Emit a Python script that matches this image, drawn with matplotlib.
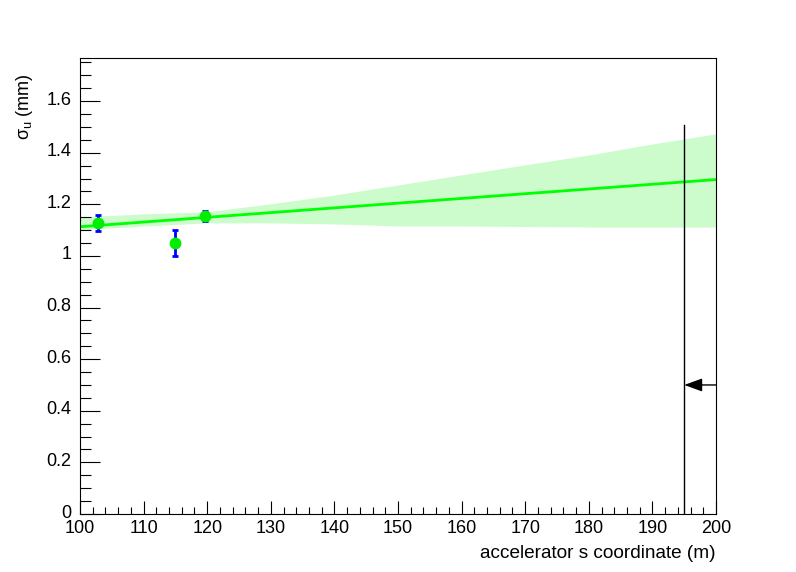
import matplotlib
matplotlib.use("Agg")
import matplotlib.pyplot as plt
import matplotlib.transforms as mtransforms
from matplotlib.ticker import MultipleLocator

plt.rcParams['font.family'] = ['Liberation Sans', 'DejaVu Sans']
plt.rcParams['mathtext.fontset'] = 'custom'
plt.rcParams['mathtext.rm'] = 'Liberation Sans'

# data points
pt_x = [102.9, 115.0, 119.65]
pt_y = [1.127, 1.050, 1.154]
pt_err = [0.030, 0.050, 0.020]

# fit line endpoints
fit_x = [100, 200]
fit_y = [1.113, 1.296]

# confidence band
band_x = [100, 110, 120, 130, 140, 150, 160, 170, 180, 190, 200]
band_hi = [1.151, 1.163, 1.171, 1.202, 1.236, 1.275, 1.314, 1.353, 1.391, 1.434, 1.473]
band_lo = [1.101, 1.116, 1.128, 1.128, 1.124, 1.116, 1.116, 1.114, 1.112, 1.112, 1.112]

# marker line and arrow
vline_x = 195
vline_top = 1.508
arrow_y = 0.5
arrow_from = 200
arrow_to = 195

fig = plt.figure(figsize=(7.96, 5.72), dpi=100)
ax = fig.add_axes([80/796, (572-514)/572, 636/796, 456/572])

ax.fill_between(band_x, band_lo, band_hi, color='#ccfccc', lw=0, zorder=1)
ax.plot(fit_x, fit_y, color='#00ff00', lw=2, zorder=2)
ax.errorbar(pt_x, pt_y, yerr=pt_err, fmt='o', color='#00ee00', ms=7.5,
            ecolor='#0000ff', elinewidth=2, capsize=2.5, capthick=2, zorder=3)

ax.plot([vline_x, vline_x], [0, vline_top], color='black', lw=1, zorder=4)
ax.annotate('', xy=(arrow_to, arrow_y), xytext=(arrow_from, arrow_y),
            arrowprops=dict(arrowstyle='-|>,head_length=1.1,head_width=0.4',
                            color='black', lw=1, shrinkA=0, shrinkB=0), zorder=4)

ax.set_xlim(100, 200)
ax.set_ylim(0, 1.767)

ax.xaxis.set_major_locator(MultipleLocator(10))
ax.xaxis.set_minor_locator(MultipleLocator(2))
ax.yaxis.set_major_locator(MultipleLocator(0.2))
ax.yaxis.set_minor_locator(MultipleLocator(0.05))

ax.yaxis.set_major_formatter(matplotlib.ticker.FuncFormatter(lambda v, p: ('%g' % round(v, 2))))

ax.tick_params(axis='both', which='both', direction='in', top=False, right=False,
               width=0.8, labelsize=13)
ax.tick_params(axis='x', which='major', length=9.4, pad=4.5)
ax.tick_params(axis='x', which='minor', length=4.7)
ax.tick_params(axis='y', which='major', length=14.4, pad=6)
ax.tick_params(axis='y', which='minor', length=7.9)

# shift y tick labels up slightly (ROOT style)
offset = mtransforms.ScaledTranslation(0, 3/100, fig.dpi_scale_trans)
for lbl in ax.get_yticklabels():
    lbl.set_transform(lbl.get_transform() + offset)

for s in ax.spines.values():
    s.set_linewidth(0.8)

ax.set_xlabel('accelerator s coordinate (m)', fontsize=13.7, ha='right')
ax.xaxis.set_label_coords(1.0, -0.068)
ax.set_ylabel('σ$_{\\mathregular{u}}$ (mm)', fontsize=13, ha='center', va='center')
ax.yaxis.set_label_coords(-0.0865, 0.8925)

fig.savefig('out.png', dpi=100)
